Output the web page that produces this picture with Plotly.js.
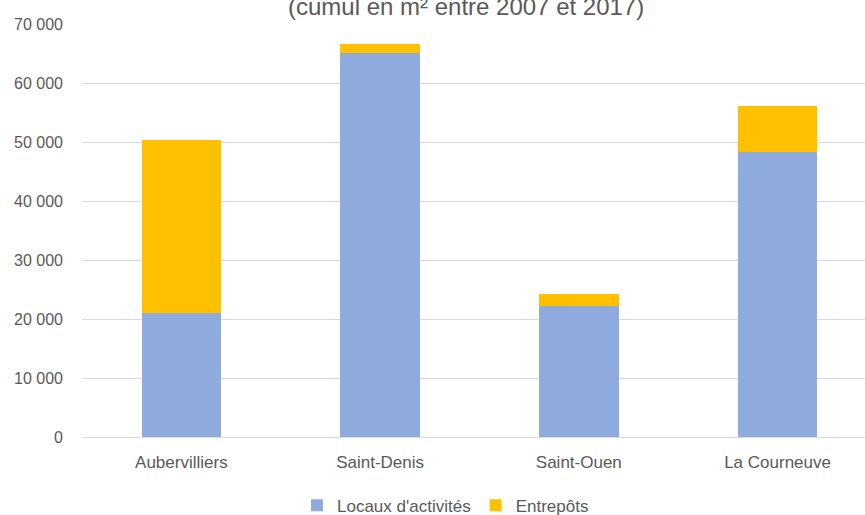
<!DOCTYPE html>
<html>
<head>
<meta charset="utf-8">
<script src="https://cdn.plot.ly/plotly-3.0.1.min.js"></script>
<style>
  html, body { margin: 0; padding: 0; background: #fff; overflow: hidden; }
  #chart { width: 865px; height: 515px; }
</style>
</head>
<body>
<div id="chart"></div>
<script>
const communes = ["Aubervilliers", "Saint-Denis", "Saint-Ouen", "La Courneuve"];
const locauxActivites = [21000, 65100, 22200, 48300];
const entrepots = [29400, 1500, 2000, 7800];
const seriesNames = ["Locaux d'activités", "Entrepôts"];
const yTickVals = [0, 10000, 20000, 30000, 40000, 50000, 60000, 70000];
const yTickText = ["0", "10 000", "20 000", "30 000", "40 000", "50 000", "60 000", "70 000"];
const subtitle = "(cumul en m² entre 2007 et 2017)";

const fontFamily = "Liberation Sans, Arial, sans-serif";
const textColor = "#595959";

const traces = [
  {
    type: "bar", name: seriesNames[0], x: communes, y: locauxActivites,
    marker: { color: "#8faadc" }, hoverinfo: "skip"
  },
  {
    type: "bar", name: seriesNames[1], x: communes, y: entrepots,
    marker: { color: "#ffc000" }, hoverinfo: "skip"
  }
];

const layout = {
  width: 865, height: 515,
  margin: { l: 82, r: 0, t: 24, b: 78 },
  barmode: "stack",
  bargap: 0.6,
  paper_bgcolor: "#ffffff",
  plot_bgcolor: "#ffffff",
  font: { family: fontFamily, size: 16, color: textColor },
  showlegend: true,
  legend: {
    orientation: "h", xref: "container", yref: "container",
    x: 0.515, xanchor: "center", y: 0.018, yanchor: "middle",
    font: { family: fontFamily, size: 17, color: textColor },
    itemwidth: 30, traceorder: "normal"
  },
  xaxis: {
    type: "category",
    range: [-0.5, 3.44],
    showgrid: false, zeroline: false,
    showline: false,
    ticks: "",
    tickfont: { family: fontFamily, size: 17, color: textColor },
    ticklabelstandoff: 13,
    fixedrange: true
  },
  yaxis: {
    range: [0, 70000],
    tickvals: yTickVals, ticktext: yTickText,
    showgrid: true, gridcolor: "#d9d9d9", gridwidth: 1,
    zeroline: true, zerolinecolor: "#d9d9d9", zerolinewidth: 1,
    showline: false, ticks: "",
    tickfont: { family: fontFamily, size: 16, color: textColor },
    ticklabelstandoff: 18,
    fixedrange: true
  },
  annotations: [
    {
      text: subtitle, xref: "paper", yref: "paper",
      x: (466 - 82) / 783, xanchor: "center",
      y: 1.005, yanchor: "bottom",
      showarrow: false,
      font: { family: fontFamily, size: 24, color: textColor }
    }
  ]
};

Plotly.newPlot("chart", traces, layout, { displayModeBar: false, staticPlot: true });
</script>
</body>
</html>
